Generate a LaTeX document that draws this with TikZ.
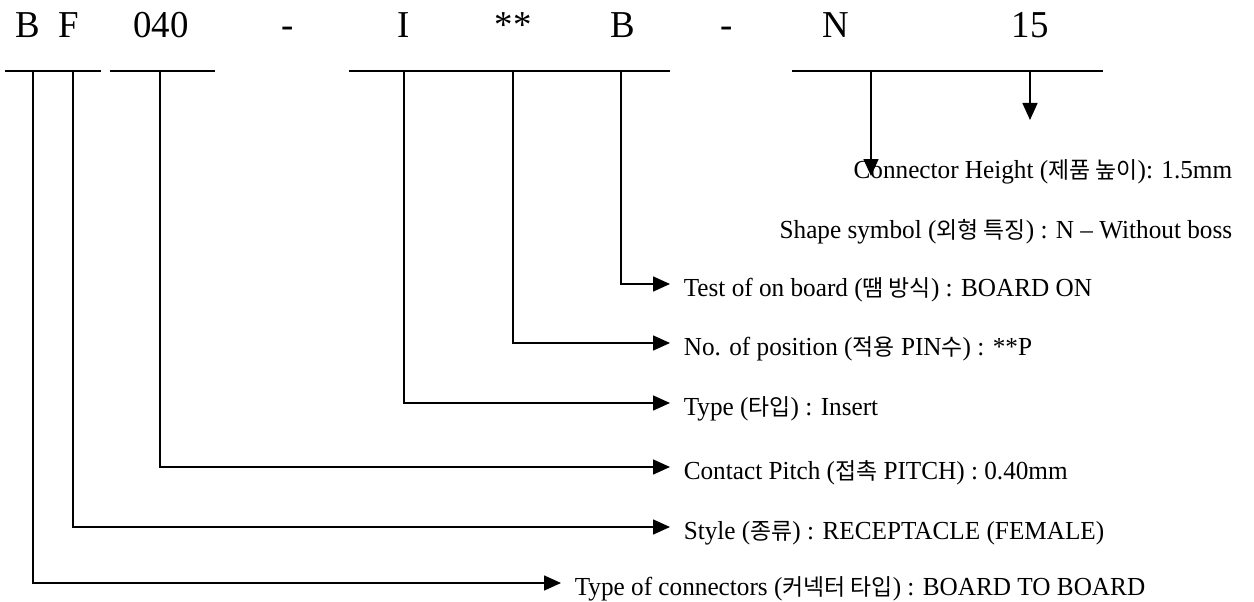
\documentclass[tikz,border=0pt]{standalone}
\usepackage{fontspec}
\setmainfont{Liberation Serif}[FakeStretch=0.97]
\newfontfamily\kr{Noto Sans CJK KR}[Scale=0.88]
\usetikzlibrary{arrows.meta}
\begin{document}
\begin{tikzpicture}[x=1pt,y=-1pt,line width=1.6pt,
  code/.style={font=\fontsize{38}{38}\selectfont,anchor=base,inner sep=0pt},
  lbl/.style={font=\fontsize{26}{28}\selectfont,anchor=base west,inner sep=0pt},
  rlbl/.style={font=\fontsize{26}{28}\selectfont,anchor=base east,inner sep=0pt},
  arr/.style={-{Triangle[length=17pt,width=15pt]}},
  hbar/.style={line width=1.6pt}]
\useasboundingbox (0,0) rectangle (1254,602);
% top code
\node[code] (cB) at (28,38) {B};
\node[code] (cF) at (69,38) {F};
\node[code] (cP) at (161,38) {040};
\node[code] (cD1) at (288,38) {-};
\node[code] (cI) at (404,38) {I};
\node[code] (cS) at (513,38) {**};
\node[code] (cB2) at (623,38) {B};
\node[code] (cD2) at (727,38) {-};
\node[code] (cN) at (836,38) {N};
\node[code] (c15) at (1030,38) {15};
% bars
\draw[hbar] (5,71) -- (101,71);
\draw[hbar] (110,71) -- (215,71);
\draw[hbar] (349,71) -- (670,71);
\draw[hbar] (792,71) -- (1103,71);
% tick points
\coordinate (t1) at (33,71);
\coordinate (t2) at (73,71);
\coordinate (t3) at (160,71);
\coordinate (t4) at (404,71);
\coordinate (t5) at (513,71);
\coordinate (t6) at (621,71);
\coordinate (t7) at (871,71);
\coordinate (e7) at (871,176);
\coordinate (t8) at (1030,71);
\coordinate (e8) at (1030,120);
% labels
\node[rlbl] (lH) at (1233,178) {Connector Height ({\kr 제품 높이}): 1.5mm};
\node[rlbl] (lS) at (1233,238) {Shape symbol ({\kr 외형 특징}) : N -- Without boss};
\node[lbl] (lT) at (683,296) {Test of on board ({\kr 땜 방식}) : BOARD ON};
\node[lbl] (lN) at (683,355) {No. of position ({\kr 적용} PIN{\kr 수}) : **P};
\node[lbl] (lY) at (683,415) {Type ({\kr 타입}) : Insert};
\node[lbl] (lC) at (683,479) {Contact Pitch ({\kr 접촉} PITCH) : 0.40mm};
\node[lbl] (lSt) at (683,539) {Style ({\kr 종류}) : RECEPTACLE (FEMALE)};
\node[lbl] (lK) at (574,595) {Type of connectors ({\kr 커넥터 타입}) : BOARD TO BOARD};
% connectors
\draw[arr] (t7) -- (e7);
\draw[arr] (t8) -- (e8);
\draw[arr,shorten >=13pt] (t6) |- ([yshift=12pt]lT.base west);
\draw[arr,shorten >=13pt] (t5) |- ([yshift=12pt]lN.base west);
\draw[arr,shorten >=13pt] (t4) |- ([yshift=12pt]lY.base west);
\draw[arr,shorten >=13pt] (t3) |- ([yshift=12pt]lC.base west);
\draw[arr,shorten >=13pt] (t2) |- ([yshift=12pt]lSt.base west);
\draw[arr,shorten >=13pt] (t1) |- ([yshift=12pt]lK.base west);
\end{tikzpicture}
\end{document}
